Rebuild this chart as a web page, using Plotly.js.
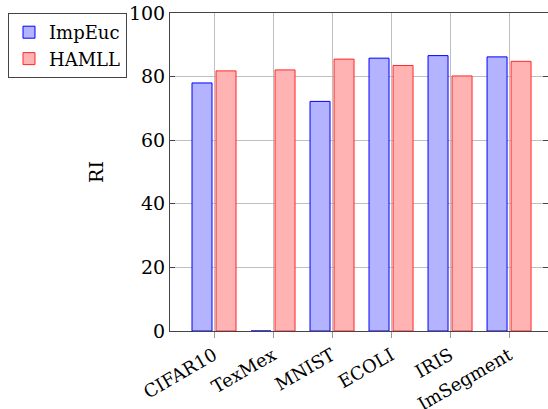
<!DOCTYPE html>
<html><head><meta charset="utf-8">
<script src="https://cdn.plot.ly/plotly-3.0.1.min.js"></script>
<style>html,body{margin:0;padding:0;background:#fff;}#chart{width:548px;height:409px;}</style>
</head><body><div id="chart"></div>
<script>
const categories = ["CIFAR10", "TexMex", "MNIST", "ECOLI", "IRIS", "ImSegment"];
const impEuc = [78.0, 0.0, 72.2, 85.8, 86.6, 86.2];
const hamll = [81.8, 82.1, 85.5, 83.5, 80.2, 84.8];
const seriesNames = ["ImpEuc", "HAMLL"];
const yTicks = [0, 20, 40, 60, 80, 100];

const fam = "DejaVu Serif";
const font = {family: fam, size: 19, color: "#000"};
const xfont = {family: fam, size: 18, color: "#000"};
const traces = [
  {type: "bar", name: seriesNames[0], x: categories, y: impEuc, offset: -0.373, width: 0.339,
   marker: {color: "rgb(179,179,255)", line: {color: "rgb(0,0,255)", width: 1}}},
  {type: "bar", name: seriesNames[1], x: categories, y: hamll, offset: 0.034, width: 0.339,
   marker: {color: "rgb(255,179,179)", line: {color: "rgb(255,40,40)", width: 1}}}
];
const layout = {
  width: 548, height: 409,
  margin: {l: 170, r: 0, t: 13, b: 78},
  paper_bgcolor: "#fff", plot_bgcolor: "#fff",
  font: font,
  barmode: "overlay",
  showlegend: true,
  legend: {x: -0.4286, xanchor: "left", y: 1.0, yanchor: "top",
    bordercolor: "#444", borderwidth: 1, bgcolor: "#fff",
    font: {family: fam, size: 18, color: "#000"}, itemwidth: 30, tracegroupgap: 0},
  xaxis: {type: "category", range: [-0.746, 5.66], showgrid: true, gridcolor: "#bfbfbf", gridwidth: 1,
    showline: true, linecolor: "#444", linewidth: 1, mirror: true,
    ticks: "outside", ticklen: 6, tickcolor: "#999", tickangle: -30, tickfont: xfont},
  yaxis: {range: [0, 100], tickvals: yTicks, ticktext: yTicks.map(String), showgrid: true, gridcolor: "#bfbfbf",
    showline: true, linecolor: "#444", linewidth: 1, mirror: "allticks",
    ticks: "inside", ticklen: 5, tickcolor: "#444", tickfont: font, zeroline: false,
    title: {text: "RI", font: font, standoff: 20}}
};
Plotly.newPlot("chart", traces, layout, {displayModeBar: false, staticPlot: true});
</script></body></html>
